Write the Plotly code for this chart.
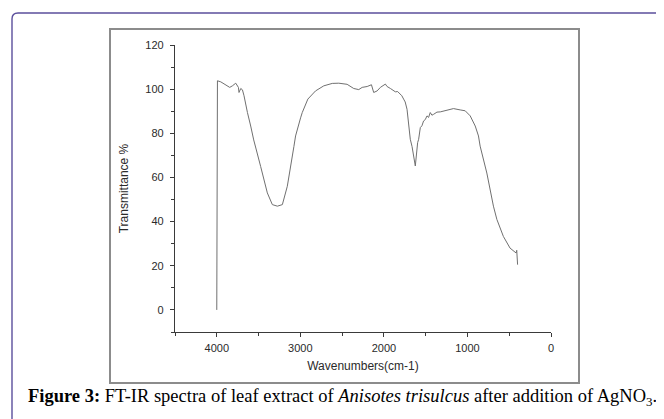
import plotly.graph_objects as go

# FT-IR spectrum (wavenumber cm-1, transmittance %)
wavenumber = [4000, 4000, 3992, 3952, 3892, 3845, 3813, 3773, 3741, 3734, 3713, 3693,
              3674, 3654, 3633, 3594, 3558, 3475, 3395, 3335, 3275, 3215, 3156, 3077,
              3057, 2997, 2977, 2910, 2838, 2818, 2719, 2618, 2540, 2440, 2361, 2301,
              2260, 2200, 2149, 2122, 2081, 2042, 1982, 1962, 1922, 1863, 1835, 1803,
              1785, 1764, 1745, 1723, 1704, 1684, 1663, 1624, 1596, 1584, 1564, 1545,
              1525, 1505, 1484, 1465, 1445, 1425, 1405, 1365, 1325, 1245, 1167, 1087,
              1027, 967, 907, 868, 848, 768, 708, 689, 648, 570, 490, 430, 418, 410,
              405, 400]
transmittance = [0, 103.5, 103.8, 103.3, 101.8, 100.8, 101.5, 102.7, 100.8, 98.5, 100.3,
                 99.7, 97.0, 93.0, 89.4, 83.3, 77.0, 65.0, 53.0, 47.7, 47.0, 47.7, 56.0,
                 74.0, 78.8, 87.0, 89.4, 95.5, 98.8, 99.2, 101.5, 102.6, 102.7, 102.2,
                 100.3, 99.8, 100.8, 101.2, 102.0, 98.5, 99.2, 100.8, 102.3, 101.2,
                 100.3, 98.8, 98.9, 97.7, 97.0, 95.5, 94.2, 90.9, 85.5, 77.3, 74.0,
                 65.2, 75.8, 77.3, 82.6, 83.4, 85.6, 86.2, 87.9, 87.2, 89.4, 88.2, 88.6,
                 89.6, 89.7, 90.6, 91.2, 90.6, 90.2, 87.9, 83.3, 78.8, 74.2, 62.0, 50.0,
                 47.0, 41.0, 33.3, 28.0, 26.5, 25.8, 27.0, 24.0, 20.5]

x_ticks = [4000, 3000, 2000, 1000, 0]
y_ticks = [0, 20, 40, 60, 80, 100, 120]

# page body has an 8px margin; compensate so the picture lands where the reference is
OFF = 8
W, H = 664 - OFF, 419 - OFF
L, R, T, B = 175 - OFF, 551 - OFF, 45 - OFF, 332 - OFF


def px(x):
    return (x - OFF - L) / (R - L)


def py(y):
    return (B - (y - OFF)) / (B - T)


fig = go.Figure()
fig.add_trace(go.Scatter(x=wavenumber, y=transmittance, mode="lines",
                         line=dict(color="#707070", width=1.0), showlegend=False,
                         hoverinfo="skip"))

axis_common = dict(showgrid=False, zeroline=False, showline=True, linecolor="#3a3a3a",
                   linewidth=1.3, ticks="outside", ticklen=4, tickwidth=1,
                   tickcolor="#3a3a3a", mirror=False,
                   tickfont=dict(family="Liberation Sans, Arial", size=11, color="#2a2a2a"))

fig.update_xaxes(range=[4500, 0], tickvals=x_ticks, ticklabelstandoff=2,
                 minor=dict(tick0=0, dtick=500, ticks="outside",
                            ticklen=2.5, tickcolor="#3a3a3a"),
                 title=dict(text="Wavenumbers(cm-1)", standoff=8,
                            font=dict(family="Liberation Sans, Arial", size=12, color="#2a2a2a")),
                 **axis_common)
fig.update_yaxes(range=[-10, 120], tickvals=y_ticks, ticklabelstandoff=4,
                 minor=dict(tick0=0, dtick=10, ticks="outside",
                            ticklen=2.5, tickcolor="#3a3a3a"),
                 title=dict(text="Transmittance %", standoff=14,
                            font=dict(family="Liberation Sans, Arial", size=12, color="#2a2a2a")),
                 **axis_common)

shapes = [
    # gray figure frame
    dict(type="rect", xref="paper", yref="paper", x0=px(110), x1=px(579), y0=py(383), y1=py(29),
         line=dict(color="#8c8c8c", width=2), layer="below"),
    # purple outer border (rounded top-left corner)
    dict(type="path", xref="paper", yref="paper",
         path=f"M {px(12)} {py(430)} L {px(12)} {py(19)} Q {px(12)} {py(13)} {px(18)} {py(13)} L {px(700)} {py(13)}",
         line=dict(color="#5b4f9c", width=1.4)),
]

fig.update_layout(
    width=W, height=H,
    margin=dict(l=L, r=W - R, t=T, b=H - B),
    paper_bgcolor="white", plot_bgcolor="white",
    shapes=shapes,
    annotations=[dict(
        text="<b>Figure 3:</b> FT-IR spectra of leaf extract of <i>Anisotes trisulcus</i> after addition of AgNO<sub>3</sub>.",
        xref="paper", yref="paper", x=px(342), y=py(398), xanchor="center", yanchor="middle",
        showarrow=False, font=dict(family="Liberation Serif, Times New Roman", size=18.5, color="#000"))],
)

fig.write_html("out.html")
